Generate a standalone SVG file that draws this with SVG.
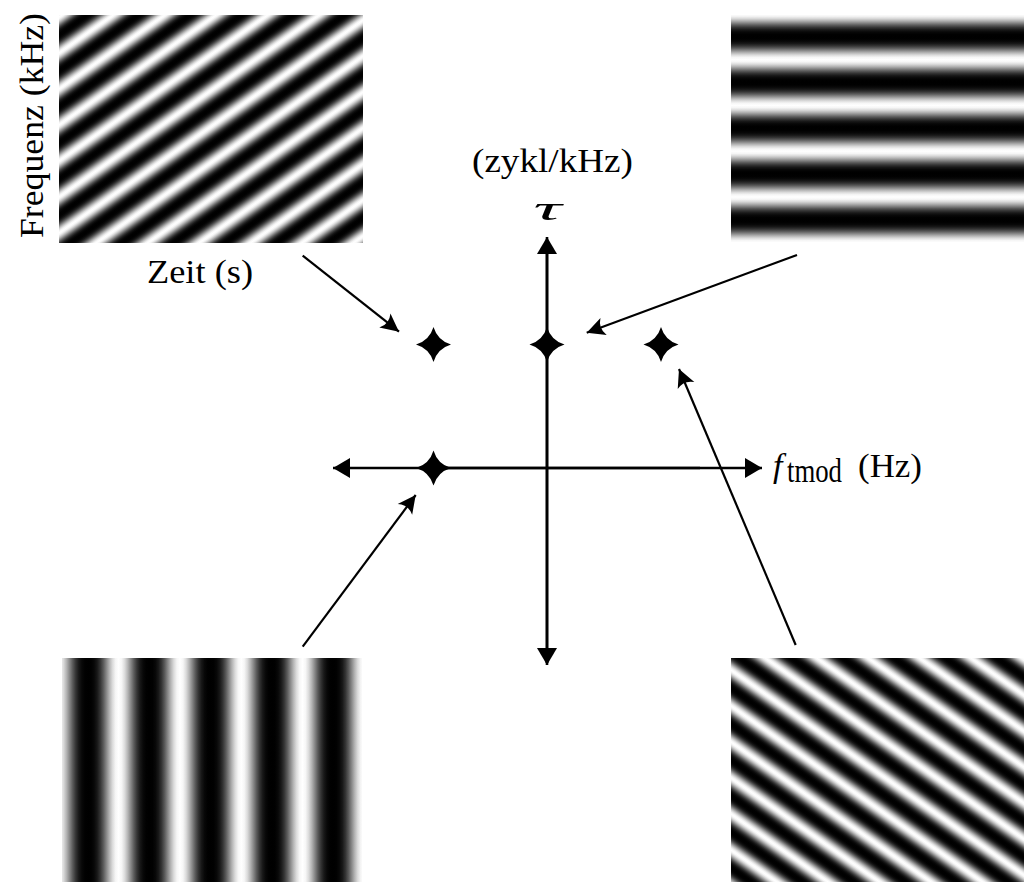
<svg xmlns="http://www.w3.org/2000/svg" width="1024" height="882" viewBox="0 0 1024 882">
<style>
.lbl{font-family:"Liberation Serif","DejaVu Serif",serif;font-size:34px;fill:#000}
.ax{stroke:#000;stroke-width:2.6;fill:none}
.cn{stroke:#000;stroke-width:2.2;fill:none}
.star{fill:#000}
</style>
<defs>
<linearGradient id="prof" spreadMethod="repeat">
<stop offset="0" stop-color="#000"/>
<stop offset="0.05" stop-color="#010101"/>
<stop offset="0.1" stop-color="#080808"/>
<stop offset="0.15" stop-color="#181818"/>
<stop offset="0.2" stop-color="#343434"/>
<stop offset="0.25" stop-color="#5a5a5a"/>
<stop offset="0.3" stop-color="#878787"/>
<stop offset="0.35" stop-color="#b4b4b4"/>
<stop offset="0.4" stop-color="#dbdbdb"/>
<stop offset="0.45" stop-color="#f6f6f6"/>
<stop offset="0.5" stop-color="#fff"/>
<stop offset="0.55" stop-color="#f6f6f6"/>
<stop offset="0.6" stop-color="#dbdbdb"/>
<stop offset="0.65" stop-color="#b4b4b4"/>
<stop offset="0.7" stop-color="#878787"/>
<stop offset="0.75" stop-color="#5a5a5a"/>
<stop offset="0.8" stop-color="#343434"/>
<stop offset="0.85" stop-color="#181818"/>
<stop offset="0.9" stop-color="#080808"/>
<stop offset="0.95" stop-color="#010101"/>
<stop offset="1" stop-color="#000"/>
</linearGradient>
<linearGradient id="gTL" href="#prof" gradientUnits="userSpaceOnUse" spreadMethod="repeat" x1="59" y1="35" x2="75.91" y2="59.16"/>
<linearGradient id="gTR" href="#prof" gradientUnits="userSpaceOnUse" spreadMethod="repeat" x1="0" y1="36.7" x2="0" y2="82.5"/>
<linearGradient id="gBL" href="#prof" gradientUnits="userSpaceOnUse" spreadMethod="repeat" x1="88" y1="0" x2="149.3" y2="0"/>
<linearGradient id="gBR" href="#prof" gradientUnits="userSpaceOnUse" spreadMethod="repeat" x1="731" y1="688" x2="714.09" y2="712.16"/>
<marker id="tri" markerUnits="userSpaceOnUse" markerWidth="20" markerHeight="22" viewBox="-18 -11 20 22" refX="0" refY="0" orient="auto">
<path d="M0,0 L-17,-10 L-17,10 Z" fill="#000"/>
</marker>
<marker id="stl" markerUnits="userSpaceOnUse" markerWidth="22" markerHeight="22" viewBox="-20 -11 22 22" refX="0" refY="0" orient="auto">
<path d="M0,0 L-18,-9 Q-12,0 -18,9 Z" fill="#000"/>
</marker>
<path id="starShape" d="M0,-17.5 Q4,-4 17.5,0 Q4,4 0,17.5 Q-4,4 -17.5,0 Q-4,-4 0,-17.5 Z"/>
</defs>
<rect width="1024" height="882" fill="#fff"/>

<g id="img-top-left">
<rect x="59" y="15" width="304" height="228" fill="url(#gTL)"/>
<text class="lbl" x="200" y="283" text-anchor="middle" textLength="106" lengthAdjust="spacingAndGlyphs">Zeit (s)</text>
<text class="lbl" transform="translate(43.3,125.5) rotate(-90)" text-anchor="middle" textLength="225" lengthAdjust="spacingAndGlyphs">Frequenz (kHz)</text>
</g>
<g id="img-top-right">
<rect x="731" y="15" width="293" height="227" fill="url(#gTR)"/>
</g>
<g id="img-bottom-left">
<rect x="62" y="658" width="300" height="224" fill="url(#gBL)"/>
</g>
<g id="img-bottom-right">
<rect x="731" y="658" width="293" height="224" fill="url(#gBR)"/>
</g>

<g id="axes">
<line class="ax" x1="547" y1="663" x2="547" y2="237" marker-end="url(#tri)"/>
<line class="ax" x1="547" y1="250" x2="547" y2="665" marker-end="url(#tri)"/>
<line class="ax" x1="420" y1="468" x2="762" y2="468" marker-end="url(#tri)"/>
<line class="ax" x1="700" y1="468" x2="333" y2="468" marker-end="url(#tri)"/>
<text class="lbl" x="552.5" y="172" text-anchor="middle" textLength="161" lengthAdjust="spacingAndGlyphs">(zykl/kHz)</text>
<text class="lbl" x="547.5" y="220" text-anchor="middle" font-style="italic" font-size="46" textLength="28" lengthAdjust="spacingAndGlyphs">τ</text>
<text class="lbl" x="773" y="477" font-style="italic" font-size="42">f</text>
<text class="lbl" x="787" y="482" font-size="24" textLength="55" lengthAdjust="spacingAndGlyphs">tmod</text>
<text class="lbl" x="858" y="477" textLength="64" lengthAdjust="spacingAndGlyphs">(Hz)</text>
</g>

<g id="star-left"><use href="#starShape" class="star" x="433.5" y="344.5"/></g>
<g id="star-center"><use href="#starShape" class="star" x="547" y="344.5"/></g>
<g id="star-right"><use href="#starShape" class="star" x="661" y="344.5"/></g>
<g id="star-axis"><use href="#starShape" class="star" x="433.5" y="468"/></g>

<g id="connectors">
<line class="cn" x1="302.7" y1="255.7" x2="399" y2="331.7" marker-end="url(#stl)"/>
<line class="cn" x1="797" y1="255" x2="586.7" y2="332.7" marker-end="url(#stl)"/>
<line class="cn" x1="302.7" y1="646.7" x2="415.7" y2="495" marker-end="url(#stl)"/>
<line class="cn" x1="795.7" y1="645" x2="679" y2="369" marker-end="url(#stl)"/>
</g>
</svg>
